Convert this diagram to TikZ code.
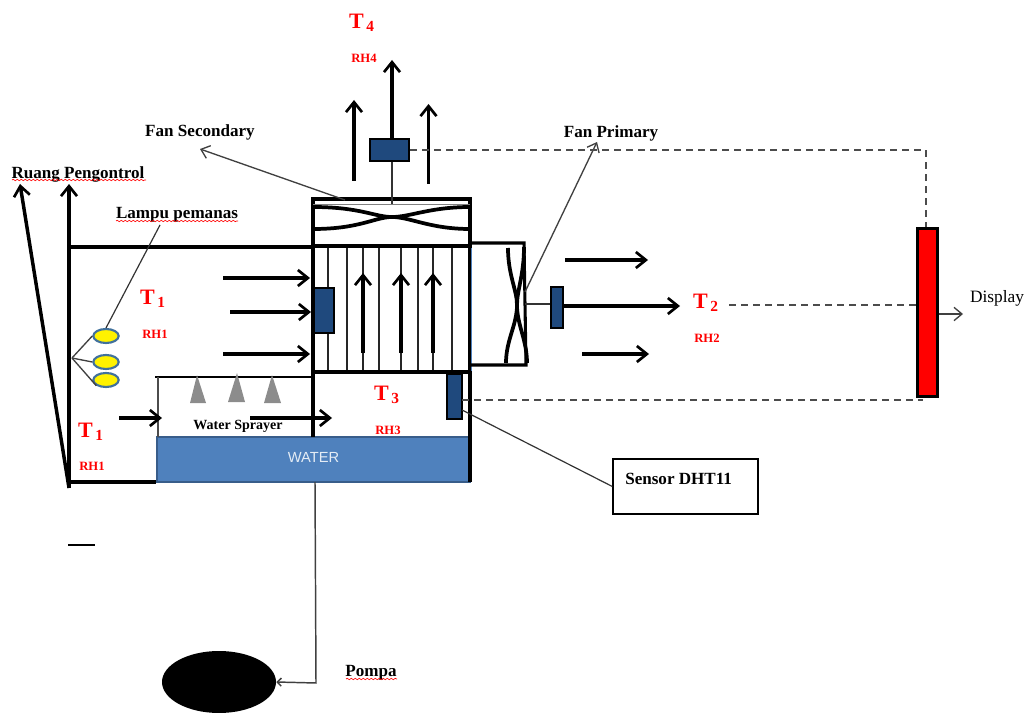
\documentclass[tikz,border=0pt]{standalone}
\usepackage{fontspec}
\setmainfont{Liberation Serif}
\setsansfont{Liberation Sans}
\usetikzlibrary{arrows.meta,decorations.pathmorphing,shapes.geometric}
\definecolor{sensorblue}{HTML}{1F497D}
\definecolor{waterblue}{HTML}{4F81BD}
\definecolor{waterline}{HTML}{385D8A}
\definecolor{lampline}{HTML}{41719C}
\tikzset{
  flow/.style={line width=2.4pt,-{Straight Barb[length=7.5pt,width=12pt,line width=2pt]}},
  heavy/.style={line width=2.8pt},
  wall/.style={line width=2.3pt},
  thin line/.style={line width=0.9pt,black!80},
  fine/.style={line width=1pt,black!75,-{Straight Barb[length=6pt,width=10pt,line width=1pt]}},
  grate/.style={line width=1pt,black!85},
  blade/.style={line width=2.8pt},
  dashline/.style={line width=1pt,dash pattern=on 5.5pt off 3.5pt,black!70},
  sensorbox/.style={draw=black,fill=sensorblue,line width=1.9pt,inner sep=0pt,minimum width=#1},
  lamp/.style={ellipse,draw=lampline,fill=yellow,line width=1.6pt,minimum width=19pt,minimum height=10.5pt,inner sep=0pt},
  nozzle/.style={fill=black!45,draw=none},
  lbl/.style={font=\fontsize{12.8pt}{14pt}\selectfont\bfseries,text=black,inner sep=0pt},
  tmp/.style={font=\fontsize{16.5pt}{19pt}\selectfont\bfseries,text=red,inner sep=0pt},
  rh/.style={font=\fontsize{9.5pt}{11pt}\selectfont\bfseries,text=red,inner sep=0pt},
  squiggle/.style={red,line width=0.5pt,decorate,decoration={snake,amplitude=0.5pt,segment length=3pt}},
}
\begin{document}
\begin{tikzpicture}[x=0.75pt,y=-0.75pt]
\useasboundingbox (0,0) rectangle (1025,713);

% cropped heading fragment
\begin{scope}
\clip (0,0) rectangle (1025,5);
\node[font=\fontsize{12pt}{14pt}\selectfont\bfseries,anchor=base,inner sep=0pt] (heady) at (71,-3) {y};
\node[font=\fontsize{12pt}{14pt}\selectfont\bfseries,anchor=base,inner sep=0pt] (headg) at (117,-3) {g};
\end{scope}

% water tank
\node[draw=waterline,fill=waterblue,line width=1.6pt,minimum width=234.75pt,minimum height=33.75pt,inner sep=0pt,
      font=\sffamily\fontsize{11pt}{13pt}\selectfont,text=white!85!waterblue,text depth=0pt] (water) at (313.5,459.5) {\raisebox{3.5pt}{WATER}};

% grated chamber
\foreach \x in {328,347,363,379,401,418,433,452}
  \draw[grate] (\x,246) -- (\x,372);
\draw[wall] (313,246) rectangle (470,372);
\draw[line width=1pt,waterblue] (471.5,248) -- (471.5,371);
% upper fan housing
\coordinate (fsL1) at (313,207); \coordinate (fsR1) at (470,229);
\coordinate (fsL2) at (313,229); \coordinate (fsR2) at (470,207);
\draw[wall] (313,246) -- (313,199) -- (470,199) -- (470,246);
\draw[line width=0.7pt,black!50] (313,204) -- (470,204);
\draw[blade] (fsL1) .. controls (360,207) and (375,217) .. (392,217) .. controls (410,217) and (430,229) .. (fsR1);
\draw[blade] (fsL2) .. controls (360,229) and (375,217) .. (392,217) .. controls (410,217) and (430,207) .. (fsR2);
% lower chamber walls
\draw[wall] (313,372) -- (313,437);
\draw[wall] (470,372) -- (470,482);
% right fan housing
\draw[wall] (470,243) -- (524,243) -- (526,365) -- (470,365);
\draw[blade] (508,248) .. controls (508,275) and (517,290) .. (517,305) .. controls (517,325) and (527,340) .. (527,363);
\draw[blade] (524,247) .. controls (524,275) and (517,290) .. (517,305) .. controls (517,325) and (506,340) .. (506,363);

% outer frame
\coordinate (corner) at (69,488);
\coordinate (ruangA) at (20,184);
\coordinate (ruangB) at (69,184);
\draw[flow,line width=2.6pt] (corner) -- (ruangA);
\draw[flow,line width=2.6pt] (corner) -- (ruangB);
\coordinate (frameT) at (70,247);
\coordinate (wallT) at (313,247);
\draw[heavy] (frameT) -- (wallT);
\coordinate (frameB) at (69,482);
\draw[heavy] (frameB) -- (water.south west |- frameB);
% spray roof
\coordinate (roofL) at (155,377); \coordinate (roofR) at (313,377); \coordinate (roofD) at (158,437);
\draw[line width=1.1pt] (roofL) -- (roofR);
\draw[line width=1pt,black!70] (roofD |- roofL) -- (roofD);

% nozzles
\fill[nozzle] (197,375) -- (206,403) -- (190,403) -- cycle;
\fill[nozzle] (237,373) -- (245,402) -- (228,402) -- cycle;
\fill[nozzle] (272,375) -- (281,403) -- (264,403) -- cycle;

% lamps
\node[lamp] (lamp1) at (106,336) {};
\node[lamp] (lamp2) at (106,362) {};
\node[lamp] (lamp3) at (106,380) {};
\coordinate (lampHub) at (72,358);
\draw[line width=1pt,black!75] (lampHub) -- (lamp1.west);
\draw[line width=1pt,black!75] (lampHub) -- (lamp2.west);
\draw[line width=1pt,black!75] (lampHub) -- (lamp3.south west);

% sensors
\node[sensorbox=15pt,minimum height=33.75pt] (senL) at (324,310.5) {};
\node[sensorbox=29pt,minimum height=16.5pt] (senT) at (389.5,150) {};
\node[sensorbox=9pt,minimum height=30.75pt] (senR) at (557,307.5) {};
\node[sensorbox=11pt,minimum height=33.75pt] (senB) at (454.5,396.5) {};

% display bar
\node[draw=black,fill=red,line width=2.4pt,minimum width=15pt,minimum height=126.5pt,inner sep=0pt] (bar) at (927.5,312.5) {};

% sensor stems
\coordinate (stemT) at (392,204);
\draw[line width=1pt,black!80] (senT.south -| stemT) -- (stemT);
\coordinate (stemR) at (525,304);
\draw[line width=1pt,black!80] (stemR) -- (senR.west |- stemR);

% flow arrows
\coordinate (a1s) at (223,278); \coordinate (a1e) at (310,278);
\coordinate (a2s) at (230,312); \coordinate (a2e) at (311,312);
\coordinate (a3s) at (223,354); \coordinate (a3e) at (310,354);
\coordinate (a4s) at (119,418); \coordinate (a4e) at (162,418);
\coordinate (a5s) at (250,418); \coordinate (a5e) at (332,418);
\draw[flow] (a1s) -- (a1e);
\draw[flow] (a2s) -- (a2e);
\draw[flow] (a3s) -- (a3e);
\draw[flow] (a4s) -- (a4e);
\draw[flow] (a5s) -- (a5e);
\foreach \x in {363,401,433}
  \draw[flow] (\x,353) -- (\x,273);
\coordinate (up1) at (392,60); \coordinate (up2a) at (354,181); \coordinate (up2b) at (354,100);
\coordinate (up3a) at (428.5,184); \coordinate (up3b) at (428.5,104);
\draw[flow] (senT.north -| up1) -- (up1);
\draw[flow] (up2a) -- (up2b);
\draw[flow] (up3a) -- (up3b);
\coordinate (o1s) at (565,260); \coordinate (o1e) at (648,260);
\coordinate (o3s) at (582,354); \coordinate (o3e) at (649,354);
\coordinate (o2e) at (680,306);
\draw[flow] (o1s) -- (o1e);
\draw[flow] (o3s) -- (o3e);
\draw[flow] (senR.east |- o2e) -- (o2e);

% labels
\node[lbl] (ruang) at (78,174) {Ruang Pengontrol};
\node[lbl] (lampu) at (177,215) {Lampu pemanas};
\node[lbl] (fansec) at (200,132) {Fan Secondary};
\node[lbl] (fanpri) at (611,133) {Fan Primary};
\node[lbl,font=\fontsize{10.5pt}{12pt}\selectfont\bfseries] (spray) at (238,426) {Water Sprayer};
\node[lbl] (pompa) at (371,673) {Pompa};
\node[inner sep=0pt,font=\fontsize{13pt}{15pt}\selectfont] (display) at (997,298) {Display};
\draw[squiggle] (12,180) -- (146,180);
\draw[squiggle] (116,221) -- (238,221);
\draw[squiggle] (346,679) -- (397,679);

\node[tmp] (t1a) at (153,299) {T\textsubscript{\,1}};
\node[rh] (rh1a) at (155,334) {RH1};
\node[tmp] (t1b) at (91,432) {T\textsubscript{\,1}};
\node[rh] (rh1b) at (92,466) {RH1};
\node[tmp] (t3) at (387,395) {T\textsubscript{\,3}};
\node[rh] (rh3) at (388,430) {RH3};
\node[tmp] (t4) at (362,23) {T\textsubscript{\,4}};
\node[rh] (rh4) at (364,58) {RH4};
\node[tmp] (t2) at (706,303) {T\textsubscript{\,2}};
\node[rh] (rh2) at (707,338) {RH2};

% leaders
\coordinate (fsTip) at (200,149); \coordinate (fsFrom) at (345,200);
\draw[fine] (fsFrom) -- (fsTip);
\coordinate (fpTip) at (597,142); \coordinate (fpFrom) at (525,292);
\draw[fine] (fpFrom) -- (fpTip);
\coordinate (lampuLead) at (160,225);
\draw[thin line] (lamp1.north) -- (lampuLead);

% dashed signal lines
\coordinate (dashTop) at (926,150);
\draw[dashline] (senT.east) -- (dashTop) -- (bar.north -| dashTop);
\coordinate (t2d) at (729,305);
\draw[dashline] (t2d) -- (bar.west |- t2d);
\coordinate (senBd) at (462,400);
\coordinate (barBot) at (923,400);
\draw[dashline] (senBd) -- (barBot);

% sensor box
\node[draw=black,line width=1pt,minimum width=108.75pt,minimum height=41.25pt,inner sep=0pt,fill=white] (dht) at (685.5,486.5) {};
\node[lbl,anchor=west] (dhttxt) at (625,479) {Sensor DHT11};
\coordinate (senBl) at (462,410);
\draw[thin line] (senBl) -- (dht.west);

% display arrow
\coordinate (dispTip) at (963,314);
\draw[fine] (bar.east |- dispTip) -- (dispTip);

% pump
\node[ellipse,fill=black,minimum width=85.5pt,minimum height=46.5pt,inner sep=0pt] (pump) at (219,682) {};
\coordinate (pipe) at (316,683);
\coordinate (pipeTop) at (315,482);
\draw[line width=1.1pt,black!75,-{Straight Barb[length=3pt,width=6pt]}] (pipeTop) -- (pipe) -- (pump.east);

% stray dash
\coordinate (d1) at (68,545); \coordinate (d2) at (95,545);
\draw[line width=1pt] (d1) -- (d2);
\end{tikzpicture}
\end{document}
